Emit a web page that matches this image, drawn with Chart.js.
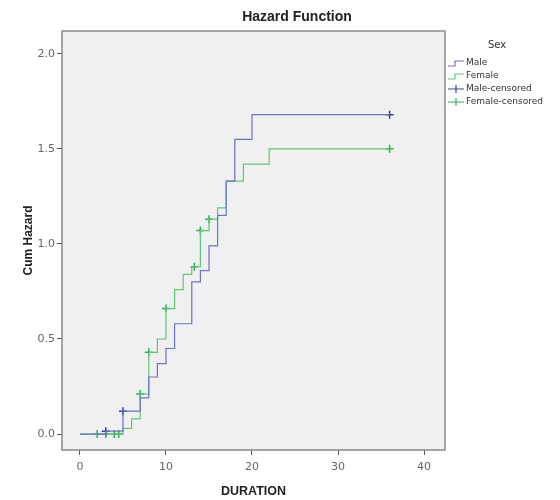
<!DOCTYPE html>
<html>
<head>
<meta charset="utf-8">
<script src="https://cdn.jsdelivr.net/npm/chart.js@4/dist/chart.umd.min.js"></script>
<style>
html, body { margin: 0; padding: 0; background: #fff; }
</style>
</head>
<body>
<canvas id="hazard" width="560" height="500"></canvas>
<script>
// step curves: event time -> cumulative hazard
let MALE_T = [0, 3, 5, 7, 8, 9, 10, 11, 13, 14, 15, 16, 17, 18, 20, 36];
let MALE_H = [0, 0.015, 0.12, 0.19, 0.30, 0.37, 0.45, 0.58, 0.80, 0.86, 0.99, 1.15, 1.33, 1.55, 1.68, 1.68];
let FEMALE_T = [0, 5, 6, 7, 8, 9, 10, 11, 12, 13, 14, 15, 16, 17, 19, 22, 36];
let FEMALE_H = [0, 0.03, 0.08, 0.21, 0.43, 0.50, 0.66, 0.76, 0.84, 0.88, 1.07, 1.13, 1.19, 1.33, 1.42, 1.50, 1.50];

// censored cases
let MALE_CENS_T = [3, 5, 36];
let MALE_CENS_H = [0.015, 0.12, 1.68];
let FEMALE_CENS_T = [2, 3, 4, 4.5, 7, 8, 10, 13.3, 14, 15, 36];
let FEMALE_CENS_H = [0, 0, 0, 0, 0.21, 0.43, 0.66, 0.88, 1.07, 1.13, 1.50];

let X_TICKS = [0, 10, 20, 30, 40];
let Y_TICKS = [0, 0.5, 1.0, 1.5, 2.0];
let LEGEND_TITLE = 'Sex';
let LEGEND_LABELS = ['Male', 'Female', 'Male-censored', 'Female-censored'];

let COL_MALE = '#6c73c8';
let COL_FEMALE = '#5fc878';
let COL_MALE_CENS = '#36408f';
let COL_FEMALE_CENS = '#2fae52';

function toPoints(ts, hs) {
	return ts.map((t, i) => ({ x: t, y: hs[i] }));
}

let framePlugin = {
	id: 'frame',
	beforeDraw(chart) {
		let c = chart.ctx, a = chart.chartArea;
		c.save();
		c.fillStyle = '#f0f0f0';
		c.fillRect(a.left, a.top, a.right - a.left, a.bottom - a.top);
		c.restore();
	},
	afterDraw(chart) {
		let c = chart.ctx, a = chart.chartArea;
		c.save();
		c.strokeStyle = '#8a8a8a';
		c.lineWidth = 1.5;
		c.strokeRect(a.left, a.top, a.right - a.left, a.bottom - a.top);

		// title
		c.fillStyle = '#222';
		c.font = 'bold 14px "Liberation Sans"';
		c.textAlign = 'center';
		c.textBaseline = 'middle';
		c.fillText('Hazard Function', 297, 17);

		// legend
		c.font = '10px "DejaVu Sans"';
		c.fillStyle = '#333';
		c.fillText(LEGEND_TITLE, 497, 45);
		c.textAlign = 'left';
		let cols = [COL_MALE, COL_FEMALE, COL_MALE_CENS, COL_FEMALE_CENS];
		for (let i = 0; i < LEGEND_LABELS.length; i++) {
			let y = 63 + i * 13;
			c.strokeStyle = cols[i];
			c.lineWidth = 1.2;
			c.beginPath();
			if (i < 2) {
				c.moveTo(448, y + 3);
				c.lineTo(455, y + 3);
				c.lineTo(455, y - 2);
				c.lineTo(464, y - 2);
			} else {
				c.moveTo(448, y);
				c.lineTo(464, y);
				c.moveTo(456, y - 4);
				c.lineTo(456, y + 4);
			}
			c.stroke();
			c.fillStyle = '#333';
			c.font = '9px "DejaVu Sans"';
			c.fillText(LEGEND_LABELS[i], 466, y);
		}
		c.restore();
	},
};

let ctx = document.getElementById('hazard').getContext('2d');
let hazardChart = new Chart(ctx, {
	type: 'scatter',
	data: {
		datasets: [
			{
				label: LEGEND_LABELS[0],
				data: toPoints(MALE_T, MALE_H),
				showLine: true,
				stepped: 'before',
				borderColor: COL_MALE,
				borderWidth: 1.2,
				pointRadius: 0,
			},
			{
				label: LEGEND_LABELS[1],
				data: toPoints(FEMALE_T, FEMALE_H),
				showLine: true,
				stepped: 'before',
				borderColor: COL_FEMALE,
				borderWidth: 1.2,
				pointRadius: 0,
			},
			{
				label: LEGEND_LABELS[2],
				data: toPoints(MALE_CENS_T, MALE_CENS_H),
				showLine: false,
				pointStyle: 'cross',
				pointRadius: 4,
				borderColor: COL_MALE_CENS,
				borderWidth: 1.5,
			},
			{
				label: LEGEND_LABELS[3],
				data: toPoints(FEMALE_CENS_T, FEMALE_CENS_H),
				showLine: false,
				pointStyle: 'cross',
				pointRadius: 4,
				borderColor: COL_FEMALE_CENS,
				borderWidth: 1.5,
			},
		],
	},
	options: {
		responsive: false,
		animation: false,
		layout: { padding: { top: 31, right: 115, bottom: 0, left: 0 } },
		plugins: { legend: { display: false }, tooltip: { enabled: false } },
		scales: {
			x: {
				type: 'linear',
				min: -2.09,
				max: 42.44,
				afterBuildTicks: (s) => { s.ticks = X_TICKS.map((v) => ({ value: v })); },
				afterFit: (s) => { s.height = 50; },
				grid: { drawOnChartArea: false, tickLength: 5, color: '#555' },
				border: { display: false },
				ticks: { padding: 6, color: '#666', font: { family: 'DejaVu Sans', size: 11 } },
				title: {
					display: true,
					text: 'DURATION',
					color: '#222',
					padding: { top: 0, bottom: 1 },
					font: { family: 'Liberation Sans', size: 12.5, weight: 'bold' },
				},
			},
			y: {
				type: 'linear',
				min: -0.084,
				max: 2.12,
				afterBuildTicks: (s) => { s.ticks = Y_TICKS.map((v) => ({ value: v })); },
				afterFit: (s) => { s.width = 62; },
				grid: { drawOnChartArea: false, tickLength: 5, color: '#555' },
				border: { display: false },
				ticks: {
					padding: 2,
					color: '#666',
					font: { family: 'DejaVu Sans', size: 11 },
					callback: (v) => v.toFixed(1),
				},
				title: {
					display: true,
					text: 'Cum Hazard',
					color: '#222',
					padding: { top: 21, bottom: 0 },
					font: { family: 'Liberation Sans', size: 12, weight: 'bold' },
				},
			},
		},
	},
	plugins: [framePlugin],
});
</script>
</body>
</html>
